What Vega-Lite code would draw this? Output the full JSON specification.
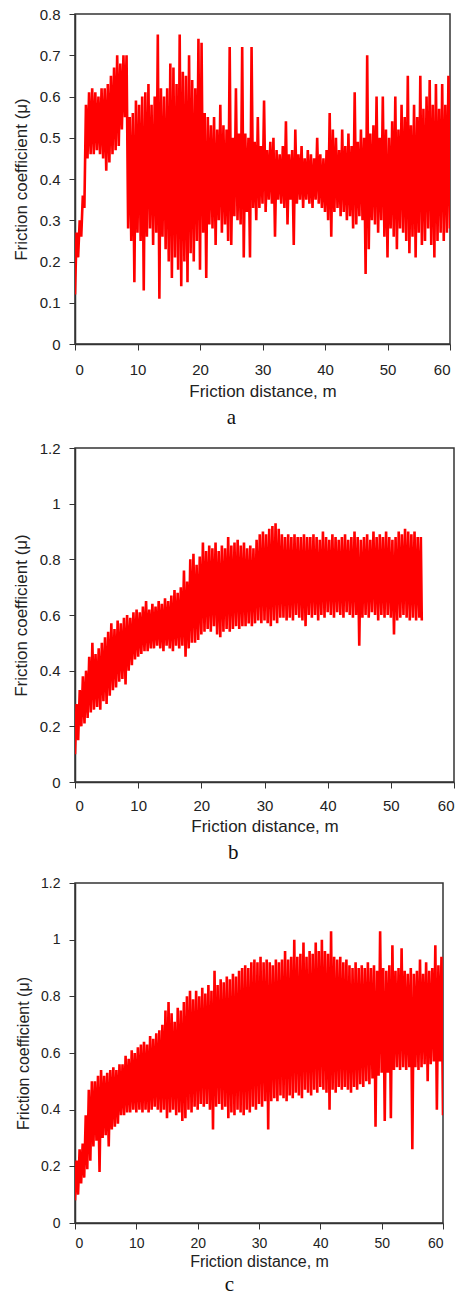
{
  "$schema": "https://vega.github.io/schema/vega-lite/v6.json",
  "background": "white",
  "padding": {"left": 11, "top": 6, "right": 2, "bottom": 0},
  "spacing": 11,
  "datasets": {
    "a": [
      {"x":0,"y":0.12},{"x":0.25,"y":0.27},{"x":0.5,"y":0.21},{"x":0.75,"y":0.30},
      {"x":1,"y":0.26},{"x":1.25,"y":0.36},{"x":1.5,"y":0.33},{"x":1.75,"y":0.58},
      {"x":2,"y":0.45},{"x":2.25,"y":0.61},{"x":2.5,"y":0.46},{"x":2.75,"y":0.62},
      {"x":3,"y":0.46},{"x":3.25,"y":0.61},{"x":3.5,"y":0.47},{"x":3.75,"y":0.60},
      {"x":4,"y":0.46},{"x":4.25,"y":0.62},{"x":4.5,"y":0.45},{"x":4.75,"y":0.62},
      {"x":5,"y":0.42},{"x":5.25,"y":0.63},{"x":5.5,"y":0.44},{"x":5.75,"y":0.65},
      {"x":6,"y":0.46},{"x":6.25,"y":0.67},{"x":6.5,"y":0.47},{"x":6.75,"y":0.70},
      {"x":7,"y":0.48},{"x":7.25,"y":0.68},{"x":7.5,"y":0.52},{"x":7.75,"y":0.70},
      {"x":8,"y":0.55},{"x":8.25,"y":0.70},{"x":8.5,"y":0.28},{"x":8.75,"y":0.55},
      {"x":9,"y":0.25},{"x":9.25,"y":0.56},{"x":9.5,"y":0.15},{"x":9.75,"y":0.59},
      {"x":10,"y":0.27},{"x":10.25,"y":0.58},{"x":10.5,"y":0.25},{"x":10.75,"y":0.60},
      {"x":11,"y":0.13},{"x":11.25,"y":0.61},{"x":11.5,"y":0.26},{"x":11.75,"y":0.63},
      {"x":12,"y":0.28},{"x":12.25,"y":0.58},{"x":12.5,"y":0.24},{"x":12.75,"y":0.60},
      {"x":13,"y":0.27},{"x":13.25,"y":0.75},{"x":13.5,"y":0.11},{"x":13.75,"y":0.62},
      {"x":14,"y":0.26},{"x":14.25,"y":0.60},{"x":14.5,"y":0.23},{"x":14.75,"y":0.62},
      {"x":15,"y":0.20},{"x":15.25,"y":0.68},{"x":15.5,"y":0.16},{"x":15.75,"y":0.67},
      {"x":16,"y":0.21},{"x":16.25,"y":0.63},{"x":16.5,"y":0.18},{"x":16.75,"y":0.75},
      {"x":17,"y":0.14},{"x":17.25,"y":0.66},{"x":17.5,"y":0.20},{"x":17.75,"y":0.65},
      {"x":18,"y":0.15},{"x":18.25,"y":0.70},{"x":18.5,"y":0.22},{"x":18.75,"y":0.64},
      {"x":19,"y":0.20},{"x":19.25,"y":0.62},{"x":19.5,"y":0.25},{"x":19.75,"y":0.74},
      {"x":20,"y":0.18},{"x":20.25,"y":0.73},{"x":20.5,"y":0.27},{"x":20.75,"y":0.56},
      {"x":21,"y":0.16},{"x":21.25,"y":0.55},{"x":21.5,"y":0.29},{"x":21.75,"y":0.53},
      {"x":22,"y":0.28},{"x":22.25,"y":0.55},{"x":22.5,"y":0.24},{"x":22.75,"y":0.52},
      {"x":23,"y":0.30},{"x":23.25,"y":0.58},{"x":23.5,"y":0.27},{"x":23.75,"y":0.53},
      {"x":24,"y":0.29},{"x":24.25,"y":0.52},{"x":24.5,"y":0.25},{"x":24.75,"y":0.72},
      {"x":25,"y":0.24},{"x":25.25,"y":0.50},{"x":25.5,"y":0.31},{"x":25.75,"y":0.62},
      {"x":26,"y":0.30},{"x":26.25,"y":0.51},{"x":26.5,"y":0.29},{"x":26.75,"y":0.72},
      {"x":27,"y":0.21},{"x":27.25,"y":0.51},{"x":27.5,"y":0.32},{"x":27.75,"y":0.50},
      {"x":28,"y":0.21},{"x":28.25,"y":0.72},{"x":28.5,"y":0.33},{"x":28.75,"y":0.49},
      {"x":29,"y":0.30},{"x":29.25,"y":0.55},{"x":29.5,"y":0.33},{"x":29.75,"y":0.48},
      {"x":30,"y":0.34},{"x":30.25,"y":0.59},{"x":30.5,"y":0.32},{"x":30.75,"y":0.47},
      {"x":31,"y":0.35},{"x":31.25,"y":0.49},{"x":31.5,"y":0.34},{"x":31.75,"y":0.50},
      {"x":32,"y":0.26},{"x":32.25,"y":0.47},{"x":32.5,"y":0.35},{"x":32.75,"y":0.46},
      {"x":33,"y":0.34},{"x":33.25,"y":0.48},{"x":33.5,"y":0.33},{"x":33.75,"y":0.54},
      {"x":34,"y":0.29},{"x":34.25,"y":0.46},{"x":34.5,"y":0.35},{"x":34.75,"y":0.47},
      {"x":35,"y":0.24},{"x":35.25,"y":0.52},{"x":35.5,"y":0.34},{"x":35.75,"y":0.46},
      {"x":36,"y":0.35},{"x":36.25,"y":0.48},{"x":36.5,"y":0.33},{"x":36.75,"y":0.45},
      {"x":37,"y":0.35},{"x":37.25,"y":0.47},{"x":37.5,"y":0.34},{"x":37.75,"y":0.46},
      {"x":38,"y":0.33},{"x":38.25,"y":0.45},{"x":38.5,"y":0.35},{"x":38.75,"y":0.50},
      {"x":39,"y":0.34},{"x":39.25,"y":0.46},{"x":39.5,"y":0.33},{"x":39.75,"y":0.45},
      {"x":40,"y":0.32},{"x":40.25,"y":0.47},{"x":40.5,"y":0.30},{"x":40.75,"y":0.56},
      {"x":41,"y":0.26},{"x":41.25,"y":0.52},{"x":41.5,"y":0.32},{"x":41.75,"y":0.50},
      {"x":42,"y":0.33},{"x":42.25,"y":0.47},{"x":42.5,"y":0.31},{"x":42.75,"y":0.52},
      {"x":43,"y":0.32},{"x":43.25,"y":0.48},{"x":43.5,"y":0.30},{"x":43.75,"y":0.51},
      {"x":44,"y":0.31},{"x":44.25,"y":0.48},{"x":44.5,"y":0.28},{"x":44.75,"y":0.61},
      {"x":45,"y":0.29},{"x":45.25,"y":0.49},{"x":45.5,"y":0.31},{"x":45.75,"y":0.52},
      {"x":46,"y":0.30},{"x":46.25,"y":0.50},{"x":46.5,"y":0.17},{"x":46.75,"y":0.70},
      {"x":47,"y":0.23},{"x":47.25,"y":0.51},{"x":47.5,"y":0.30},{"x":47.75,"y":0.53},
      {"x":48,"y":0.29},{"x":48.25,"y":0.60},{"x":48.5,"y":0.27},{"x":48.75,"y":0.50},
      {"x":49,"y":0.30},{"x":49.25,"y":0.60},{"x":49.5,"y":0.26},{"x":49.75,"y":0.52},
      {"x":50,"y":0.21},{"x":50.25,"y":0.50},{"x":50.5,"y":0.28},{"x":50.75,"y":0.54},
      {"x":51,"y":0.26},{"x":51.25,"y":0.60},{"x":51.5,"y":0.23},{"x":51.75,"y":0.52},
      {"x":52,"y":0.28},{"x":52.25,"y":0.58},{"x":52.5,"y":0.27},{"x":52.75,"y":0.55},
      {"x":53,"y":0.25},{"x":53.25,"y":0.65},{"x":53.5,"y":0.22},{"x":53.75,"y":0.53},
      {"x":54,"y":0.26},{"x":54.25,"y":0.58},{"x":54.5,"y":0.21},{"x":54.75,"y":0.55},
      {"x":55,"y":0.27},{"x":55.25,"y":0.65},{"x":55.5,"y":0.24},{"x":55.75,"y":0.57},
      {"x":56,"y":0.25},{"x":56.25,"y":0.60},{"x":56.5,"y":0.28},{"x":56.75,"y":0.64},
      {"x":57,"y":0.24},{"x":57.25,"y":0.58},{"x":57.5,"y":0.21},{"x":57.75,"y":0.63},
      {"x":58,"y":0.25},{"x":58.25,"y":0.57},{"x":58.5,"y":0.27},{"x":58.75,"y":0.63},
      {"x":59,"y":0.25},{"x":59.25,"y":0.58},{"x":59.5,"y":0.27},{"x":59.75,"y":0.65},
      {"x":60,"y":0.28}
    ],
    "b": [
      {"x":0,"y":0.10},{"x":0.25,"y":0.28},{"x":0.5,"y":0.15},{"x":0.75,"y":0.33},
      {"x":1,"y":0.20},{"x":1.25,"y":0.38},{"x":1.5,"y":0.21},{"x":1.75,"y":0.40},
      {"x":2,"y":0.23},{"x":2.25,"y":0.45},{"x":2.5,"y":0.25},{"x":2.75,"y":0.50},
      {"x":3,"y":0.26},{"x":3.25,"y":0.46},{"x":3.5,"y":0.27},{"x":3.75,"y":0.48},
      {"x":4,"y":0.26},{"x":4.25,"y":0.50},{"x":4.5,"y":0.29},{"x":4.75,"y":0.52},
      {"x":5,"y":0.28},{"x":5.25,"y":0.54},{"x":5.5,"y":0.31},{"x":5.75,"y":0.57},
      {"x":6,"y":0.33},{"x":6.25,"y":0.55},{"x":6.5,"y":0.34},{"x":6.75,"y":0.58},
      {"x":7,"y":0.36},{"x":7.25,"y":0.57},{"x":7.5,"y":0.37},{"x":7.75,"y":0.59},
      {"x":8,"y":0.35},{"x":8.25,"y":0.60},{"x":8.5,"y":0.40},{"x":8.75,"y":0.59},
      {"x":9,"y":0.42},{"x":9.25,"y":0.61},{"x":9.5,"y":0.44},{"x":9.75,"y":0.62},
      {"x":10,"y":0.45},{"x":10.25,"y":0.61},{"x":10.5,"y":0.46},{"x":10.75,"y":0.63},
      {"x":11,"y":0.47},{"x":11.25,"y":0.65},{"x":11.5,"y":0.47},{"x":11.75,"y":0.62},
      {"x":12,"y":0.48},{"x":12.25,"y":0.64},{"x":12.5,"y":0.48},{"x":12.75,"y":0.63},
      {"x":13,"y":0.49},{"x":13.25,"y":0.65},{"x":13.5,"y":0.48},{"x":13.75,"y":0.64},
      {"x":14,"y":0.47},{"x":14.25,"y":0.66},{"x":14.5,"y":0.49},{"x":14.75,"y":0.65},
      {"x":15,"y":0.48},{"x":15.25,"y":0.67},{"x":15.5,"y":0.47},{"x":15.75,"y":0.69},
      {"x":16,"y":0.49},{"x":16.25,"y":0.68},{"x":16.5,"y":0.48},{"x":16.75,"y":0.70},
      {"x":17,"y":0.49},{"x":17.25,"y":0.76},{"x":17.5,"y":0.45},{"x":17.75,"y":0.72},
      {"x":18,"y":0.48},{"x":18.25,"y":0.80},{"x":18.5,"y":0.50},{"x":18.75,"y":0.82},
      {"x":19,"y":0.50},{"x":19.25,"y":0.78},{"x":19.5,"y":0.51},{"x":19.75,"y":0.81},
      {"x":20,"y":0.53},{"x":20.25,"y":0.86},{"x":20.5,"y":0.54},{"x":20.75,"y":0.83},
      {"x":21,"y":0.55},{"x":21.25,"y":0.85},{"x":21.5,"y":0.54},{"x":21.75,"y":0.84},
      {"x":22,"y":0.56},{"x":22.25,"y":0.86},{"x":22.5,"y":0.53},{"x":22.75,"y":0.83},
      {"x":23,"y":0.52},{"x":23.25,"y":0.85},{"x":23.5,"y":0.54},{"x":23.75,"y":0.84},
      {"x":24,"y":0.55},{"x":24.25,"y":0.88},{"x":24.5,"y":0.54},{"x":24.75,"y":0.85},
      {"x":25,"y":0.55},{"x":25.25,"y":0.86},{"x":25.5,"y":0.56},{"x":25.75,"y":0.87},
      {"x":26,"y":0.55},{"x":26.25,"y":0.85},{"x":26.5,"y":0.56},{"x":26.75,"y":0.86},
      {"x":27,"y":0.56},{"x":27.25,"y":0.84},{"x":27.5,"y":0.57},{"x":27.75,"y":0.85},
      {"x":28,"y":0.56},{"x":28.25,"y":0.84},{"x":28.5,"y":0.57},{"x":28.75,"y":0.87},
      {"x":29,"y":0.58},{"x":29.25,"y":0.89},{"x":29.5,"y":0.57},{"x":29.75,"y":0.90},
      {"x":30,"y":0.58},{"x":30.25,"y":0.89},{"x":30.5,"y":0.57},{"x":30.75,"y":0.91},
      {"x":31,"y":0.56},{"x":31.25,"y":0.92},{"x":31.5,"y":0.58},{"x":31.75,"y":0.93},
      {"x":32,"y":0.57},{"x":32.25,"y":0.91},{"x":32.5,"y":0.59},{"x":32.75,"y":0.89},
      {"x":33,"y":0.59},{"x":33.25,"y":0.88},{"x":33.5,"y":0.58},{"x":33.75,"y":0.89},
      {"x":34,"y":0.59},{"x":34.25,"y":0.88},{"x":34.5,"y":0.58},{"x":34.75,"y":0.89},
      {"x":35,"y":0.60},{"x":35.25,"y":0.88},{"x":35.5,"y":0.59},{"x":35.75,"y":0.88},
      {"x":36,"y":0.58},{"x":36.25,"y":0.89},{"x":36.5,"y":0.56},{"x":36.75,"y":0.88},
      {"x":37,"y":0.60},{"x":37.25,"y":0.88},{"x":37.5,"y":0.59},{"x":37.75,"y":0.89},
      {"x":38,"y":0.60},{"x":38.25,"y":0.88},{"x":38.5,"y":0.58},{"x":38.75,"y":0.87},
      {"x":39,"y":0.60},{"x":39.25,"y":0.90},{"x":39.5,"y":0.59},{"x":39.75,"y":0.88},
      {"x":40,"y":0.61},{"x":40.25,"y":0.87},{"x":40.5,"y":0.60},{"x":40.75,"y":0.89},
      {"x":41,"y":0.59},{"x":41.25,"y":0.88},{"x":41.5,"y":0.61},{"x":41.75,"y":0.87},
      {"x":42,"y":0.60},{"x":42.25,"y":0.88},{"x":42.5,"y":0.59},{"x":42.75,"y":0.89},
      {"x":43,"y":0.61},{"x":43.25,"y":0.87},{"x":43.5,"y":0.60},{"x":43.75,"y":0.88},
      {"x":44,"y":0.59},{"x":44.25,"y":0.90},{"x":44.5,"y":0.60},{"x":44.75,"y":0.88},
      {"x":45,"y":0.49},{"x":45.25,"y":0.87},{"x":45.5,"y":0.59},{"x":45.75,"y":0.88},
      {"x":46,"y":0.60},{"x":46.25,"y":0.89},{"x":46.5,"y":0.59},{"x":46.75,"y":0.87},
      {"x":47,"y":0.61},{"x":47.25,"y":0.90},{"x":47.5,"y":0.60},{"x":47.75,"y":0.88},
      {"x":48,"y":0.58},{"x":48.25,"y":0.89},{"x":48.5,"y":0.60},{"x":48.75,"y":0.88},
      {"x":49,"y":0.59},{"x":49.25,"y":0.90},{"x":49.5,"y":0.60},{"x":49.75,"y":0.88},
      {"x":50,"y":0.59},{"x":50.25,"y":0.87},{"x":50.5,"y":0.53},{"x":50.75,"y":0.88},
      {"x":51,"y":0.58},{"x":51.25,"y":0.90},{"x":51.5,"y":0.59},{"x":51.75,"y":0.89},
      {"x":52,"y":0.60},{"x":52.25,"y":0.91},{"x":52.5,"y":0.59},{"x":52.75,"y":0.90},
      {"x":53,"y":0.58},{"x":53.25,"y":0.89},{"x":53.5,"y":0.59},{"x":53.75,"y":0.90},
      {"x":54,"y":0.58},{"x":54.25,"y":0.88},{"x":54.5,"y":0.59},{"x":54.75,"y":0.88},
      {"x":54.9,"y":0.58}
    ],
    "c": [
      {"x":0,"y":0.08},{"x":0.25,"y":0.22},{"x":0.5,"y":0.10},{"x":0.75,"y":0.26},
      {"x":1,"y":0.14},{"x":1.25,"y":0.28},{"x":1.5,"y":0.16},{"x":1.75,"y":0.38},
      {"x":2,"y":0.19},{"x":2.25,"y":0.47},{"x":2.5,"y":0.22},{"x":2.75,"y":0.50},
      {"x":3,"y":0.27},{"x":3.25,"y":0.50},{"x":3.5,"y":0.29},{"x":3.75,"y":0.52},
      {"x":4,"y":0.18},{"x":4.25,"y":0.54},{"x":4.5,"y":0.30},{"x":4.75,"y":0.52},
      {"x":5,"y":0.31},{"x":5.25,"y":0.53},{"x":5.5,"y":0.27},{"x":5.75,"y":0.54},
      {"x":6,"y":0.33},{"x":6.25,"y":0.55},{"x":6.5,"y":0.34},{"x":6.75,"y":0.54},
      {"x":7,"y":0.35},{"x":7.25,"y":0.56},{"x":7.5,"y":0.38},{"x":7.75,"y":0.56},
      {"x":8,"y":0.38},{"x":8.25,"y":0.59},{"x":8.5,"y":0.39},{"x":8.75,"y":0.58},
      {"x":9,"y":0.39},{"x":9.25,"y":0.61},{"x":9.5,"y":0.40},{"x":9.75,"y":0.60},
      {"x":10,"y":0.39},{"x":10.25,"y":0.62},{"x":10.5,"y":0.40},{"x":10.75,"y":0.63},
      {"x":11,"y":0.39},{"x":11.25,"y":0.64},{"x":11.5,"y":0.40},{"x":11.75,"y":0.63},
      {"x":12,"y":0.39},{"x":12.25,"y":0.66},{"x":12.5,"y":0.40},{"x":12.75,"y":0.65},
      {"x":13,"y":0.41},{"x":13.25,"y":0.67},{"x":13.5,"y":0.40},{"x":13.75,"y":0.68},
      {"x":14,"y":0.39},{"x":14.25,"y":0.70},{"x":14.5,"y":0.40},{"x":14.75,"y":0.75},
      {"x":15,"y":0.37},{"x":15.25,"y":0.78},{"x":15.5,"y":0.39},{"x":15.75,"y":0.74},
      {"x":16,"y":0.40},{"x":16.25,"y":0.71},{"x":16.5,"y":0.38},{"x":16.75,"y":0.76},
      {"x":17,"y":0.39},{"x":17.25,"y":0.75},{"x":17.5,"y":0.36},{"x":17.75,"y":0.78},
      {"x":18,"y":0.37},{"x":18.25,"y":0.80},{"x":18.5,"y":0.40},{"x":18.75,"y":0.82},
      {"x":19,"y":0.39},{"x":19.25,"y":0.79},{"x":19.5,"y":0.41},{"x":19.75,"y":0.82},
      {"x":20,"y":0.40},{"x":20.25,"y":0.80},{"x":20.5,"y":0.42},{"x":20.75,"y":0.83},
      {"x":21,"y":0.41},{"x":21.25,"y":0.81},{"x":21.5,"y":0.42},{"x":21.75,"y":0.84},
      {"x":22,"y":0.40},{"x":22.25,"y":0.82},{"x":22.5,"y":0.33},{"x":22.75,"y":0.89},
      {"x":23,"y":0.41},{"x":23.25,"y":0.84},{"x":23.5,"y":0.42},{"x":23.75,"y":0.86},
      {"x":24,"y":0.40},{"x":24.25,"y":0.85},{"x":24.5,"y":0.41},{"x":24.75,"y":0.87},
      {"x":25,"y":0.37},{"x":25.25,"y":0.86},{"x":25.5,"y":0.39},{"x":25.75,"y":0.88},
      {"x":26,"y":0.38},{"x":26.25,"y":0.87},{"x":26.5,"y":0.40},{"x":26.75,"y":0.89},
      {"x":27,"y":0.39},{"x":27.25,"y":0.90},{"x":27.5,"y":0.38},{"x":27.75,"y":0.91},
      {"x":28,"y":0.40},{"x":28.25,"y":0.90},{"x":28.5,"y":0.39},{"x":28.75,"y":0.92},
      {"x":29,"y":0.41},{"x":29.25,"y":0.93},{"x":29.5,"y":0.40},{"x":29.75,"y":0.92},
      {"x":30,"y":0.42},{"x":30.25,"y":0.94},{"x":30.5,"y":0.41},{"x":30.75,"y":0.92},
      {"x":31,"y":0.43},{"x":31.25,"y":0.93},{"x":31.5,"y":0.33},{"x":31.75,"y":0.92},
      {"x":32,"y":0.43},{"x":32.25,"y":0.91},{"x":32.5,"y":0.44},{"x":32.75,"y":0.93},
      {"x":33,"y":0.43},{"x":33.25,"y":0.92},{"x":33.5,"y":0.45},{"x":33.75,"y":0.93},
      {"x":34,"y":0.44},{"x":34.25,"y":0.96},{"x":34.5,"y":0.43},{"x":34.75,"y":0.93},
      {"x":35,"y":0.45},{"x":35.25,"y":0.94},{"x":35.5,"y":0.44},{"x":35.75,"y":1.00},
      {"x":36,"y":0.46},{"x":36.25,"y":0.94},{"x":36.5,"y":0.45},{"x":36.75,"y":0.95},
      {"x":37,"y":0.44},{"x":37.25,"y":0.99},{"x":37.5,"y":0.47},{"x":37.75,"y":0.94},
      {"x":38,"y":0.46},{"x":38.25,"y":0.96},{"x":38.5,"y":0.45},{"x":38.75,"y":0.95},
      {"x":39,"y":0.47},{"x":39.25,"y":0.99},{"x":39.5,"y":0.46},{"x":39.75,"y":0.96},
      {"x":40,"y":0.48},{"x":40.25,"y":1.00},{"x":40.5,"y":0.47},{"x":40.75,"y":0.96},
      {"x":41,"y":0.46},{"x":41.25,"y":0.95},{"x":41.5,"y":0.40},{"x":41.75,"y":1.03},
      {"x":42,"y":0.47},{"x":42.25,"y":0.94},{"x":42.5,"y":0.46},{"x":42.75,"y":0.93},
      {"x":43,"y":0.48},{"x":43.25,"y":0.94},{"x":43.5,"y":0.47},{"x":43.75,"y":0.92},
      {"x":44,"y":0.48},{"x":44.25,"y":0.93},{"x":44.5,"y":0.47},{"x":44.75,"y":0.91},
      {"x":45,"y":0.46},{"x":45.25,"y":0.90},{"x":45.5,"y":0.48},{"x":45.75,"y":0.92},
      {"x":46,"y":0.47},{"x":46.25,"y":0.90},{"x":46.5,"y":0.49},{"x":46.75,"y":0.91},
      {"x":47,"y":0.48},{"x":47.25,"y":0.90},{"x":47.5,"y":0.50},{"x":47.75,"y":0.92},
      {"x":48,"y":0.49},{"x":48.25,"y":0.90},{"x":48.5,"y":0.51},{"x":48.75,"y":0.91},
      {"x":49,"y":0.34},{"x":49.25,"y":0.89},{"x":49.5,"y":0.52},{"x":49.75,"y":1.03},
      {"x":50,"y":0.53},{"x":50.25,"y":0.90},{"x":50.5,"y":0.36},{"x":50.75,"y":0.89},
      {"x":51,"y":0.53},{"x":51.25,"y":0.91},{"x":51.5,"y":0.37},{"x":51.75,"y":0.98},
      {"x":52,"y":0.54},{"x":52.25,"y":0.89},{"x":52.5,"y":0.55},{"x":52.75,"y":0.90},
      {"x":53,"y":0.54},{"x":53.25,"y":0.97},{"x":53.5,"y":0.55},{"x":53.75,"y":0.89},
      {"x":54,"y":0.54},{"x":54.25,"y":0.88},{"x":54.5,"y":0.55},{"x":54.75,"y":0.90},
      {"x":55,"y":0.26},{"x":55.25,"y":0.88},{"x":55.5,"y":0.55},{"x":55.75,"y":0.89},
      {"x":56,"y":0.54},{"x":56.25,"y":0.93},{"x":56.5,"y":0.55},{"x":56.75,"y":0.88},
      {"x":57,"y":0.56},{"x":57.25,"y":0.92},{"x":57.5,"y":0.50},{"x":57.75,"y":0.89},
      {"x":58,"y":0.56},{"x":58.25,"y":0.90},{"x":58.5,"y":0.57},{"x":58.75,"y":0.98},
      {"x":59,"y":0.40},{"x":59.25,"y":0.91},{"x":59.5,"y":0.57},{"x":59.75,"y":0.94},
      {"x":60,"y":0.38}
    ]
  },
  "config": {
    "font": "Liberation Sans",
    "view": {"stroke": "#333", "strokeWidth": 1.5},
    "axis": {
      "grid": false,
      "labelFont": "Liberation Sans",
      "labelFontSize": 15,
      "labelColor": "#222",
      "titleFont": "Liberation Sans",
      "titleFontSize": 17,
      "titleFontWeight": "normal",
      "titleColor": "#222",
      "domainColor": "#333",
      "domainWidth": 1.5,
      "tickColor": "#333",
      "tickSize": 6,
      "labelPadding": 9
    },
    "axisX": {"labelPadding": 12, "titlePadding": 6},
    "axisY": {"titlePadding": 9},
    "title": {
      "orient": "bottom",
      "anchor": "middle",
      "frame": "bounds",
      "font": "Liberation Serif",
      "fontSize": 21,
      "fontWeight": "normal",
      "color": "#111",
      "offset": 6
    }
  },
  "vconcat": [
    {
      "width": 375,
      "height": 330,
      "data": {"name": "a"},
      "title": {"text": "a", "offset": 8},
      "mark": {"type": "line", "color": "#ff0000", "strokeWidth": 2.6, "clip": true},
      "encoding": {
        "x": {"field": "x", "type": "quantitative", "scale": {"domain": [0, 60], "nice": false},
              "axis": {"values": [0, 10, 20, 30, 40, 50, 60], "title": "Friction distance, m"}},
        "y": {"field": "y", "type": "quantitative", "scale": {"domain": [0, 0.8], "nice": false},
              "axis": {"values": [0, 0.1, 0.2, 0.3, 0.4, 0.5, 0.6, 0.7, 0.8], "format": "~g", "title": "Friction coefficient (μ)"}}
      }
    },
    {
      "width": 379,
      "height": 334,
      "data": {"name": "b"},
      "title": {"text": "b", "offset": 8},
      "mark": {"type": "line", "color": "#ff0000", "strokeWidth": 2.6, "clip": true},
      "encoding": {
        "x": {"field": "x", "type": "quantitative", "scale": {"domain": [0, 60], "nice": false},
              "axis": {"values": [0, 10, 20, 30, 40, 50, 60], "title": "Friction distance, m", "labelPadding": 10, "titlePadding": 5}},
        "y": {"field": "y", "type": "quantitative", "scale": {"domain": [0, 1.2], "nice": false},
              "axis": {"values": [0, 0.2, 0.4, 0.6, 0.8, 1, 1.2], "format": "~g", "title": "Friction coefficient (μ)"}}
      }
    },
    {
      "width": 368,
      "height": 340,
      "data": {"name": "c"},
      "title": {"text": "c", "offset": 5},
      "mark": {"type": "line", "color": "#ff0000", "strokeWidth": 2.6, "clip": true},
      "encoding": {
        "x": {"field": "x", "type": "quantitative", "scale": {"domain": [0, 60], "nice": false},
              "axis": {"values": [0, 10, 20, 30, 40, 50, 60], "title": "Friction distance, m", "labelPadding": 7, "titlePadding": 3, "labelFontSize": 14, "titleFontSize": 16}},
        "y": {"field": "y", "type": "quantitative", "scale": {"domain": [0, 1.2], "nice": false},
              "axis": {"values": [0, 0.2, 0.4, 0.6, 0.8, 1, 1.2], "format": "~g", "title": "Friction coefficient (μ)", "labelFontSize": 14, "titleFontSize": 16}}
      }
    }
  ]
}
